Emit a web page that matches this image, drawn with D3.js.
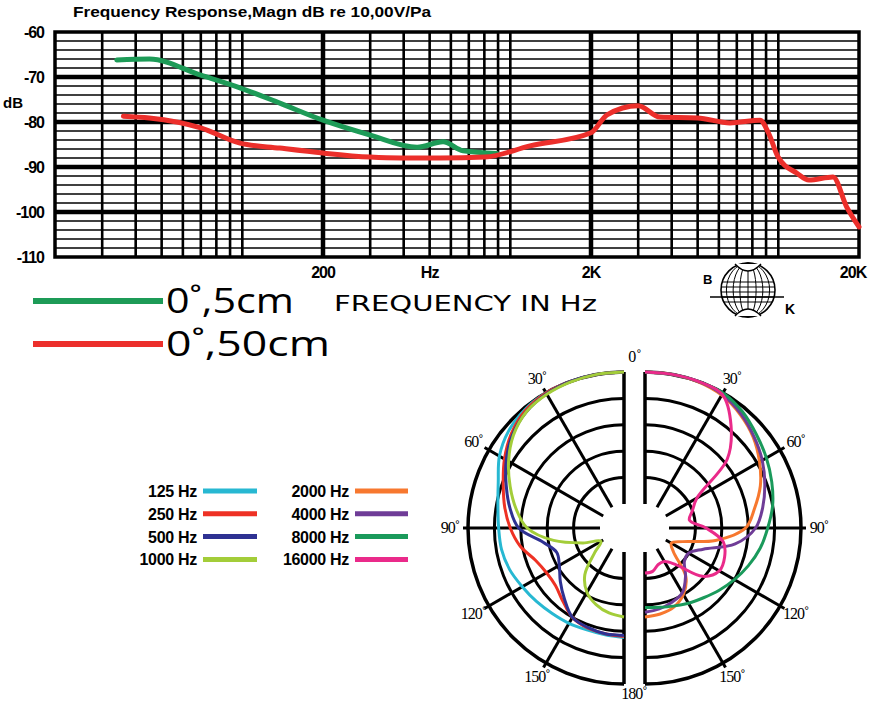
<!DOCTYPE html>
<html>
<head>
<meta charset="utf-8">
<script src="https://cdn.jsdelivr.net/npm/d3@7"></script>
<style>
body { margin: 0; background: #fff; }
svg { display: block; }
</style>
</head>
<body>
<div id="chart"></div>
<script>
'use strict'

/*
 Frequency response data
*/
let freq5cm = [34, 45, 70, 98, 138, 200, 300, 449, 561, 666, 892]
let db5cm = [-66.2, -66, -69.6, -72.4, -75.8, -79.6, -82.9, -85.6, -84.4, -86.4, -87]
let freq50cm = [36, 45, 70, 98, 138, 200, 300, 390, 547, 804, 1184, 2000, 2296, 3000, 3616, 5000, 6600, 8550, 9200, 9980, 11740, 13000, 16000, 18000, 20000]
let db50cm = [-78.7, -79.1, -81.3, -84.7, -85.8, -86.9, -87.8, -88, -88, -87.8, -85.3, -82.4, -78.4, -76.4, -78.9, -79.1, -80.2, -79.6, -82.5, -87.8, -91.4, -92.9, -92.2, -98.9, -103.3]
let respLabels = ['0˚,5cm', '0˚,50cm']
let respColors = ['#1d9b57', '#ec2f2b']

let yTicks = [-60, -70, -80, -90, -100, -110]
let xLabels = [[200, '200'], [500, 'Hz'], [2000, '2K'], [19000, '20K']]

/*
 Polar data, dB relative to 0 deg
*/
let angles = [0, 10, 20, 30, 40, 50, 60, 70, 80, 90, 100, 110, 120, 130, 140, 150, 160, 170, 180]
let pol125 = [0, 0, 0, 0, -0.3, -1.0, -2.3, -4.2, -5.3, -5.8, -6.0, -6.5, -7.3, -7.9, -8.4, -8.7, -9.0, -9.0, -8.8]
let pol250 = [0, 0, 0, 0, -0.5, -1.7, -3.4, -5.2, -6.6, -8.0, -9.6, -11.7, -12.6, -12.6, -11.5, -10.0, -9.4, -9.2, -9.0]
let pol500 = [0, 0, 0, -0.2, -0.8, -2.0, -3.8, -5.8, -7.6, -9.6, -14.0, -16.0, -15.4, -13.8, -12.0, -10.0, -9.5, -9.2, -9.2]
let pol1000 = [0, 0, -0.1, -0.3, -0.8, -2.2, -4.3, -6.6, -8.8, -11.2, -16.0, -21.3, -24.5, -22.3, -18.0, -15.5, -14.1, -13.2, -12.7]
let pol2000 = [0, 0, -0.1, -0.5, -1.5, -2.8, -4.5, -6.3, -8.5, -10.5, -16.0, -22.0, -23.8, -22.5, -17.5, -15.0, -13.6, -13.0, -12.7]
let pol4000 = [0, 0, 0, -0.3, -1.3, -2.6, -3.9, -5.4, -6.9, -8.6, -12.2, -17.8, -20.0, -19.8, -17.6, -15.4, -14.6, -14.0, -13.6]
let pol8000 = [0, 0, 0, 0, -0.8, -2.0, -3.0, -4.0, -5.0, -6.3, -7.4, -8.7, -10.0, -11.2, -12.3, -13.1, -13.8, -14.3, -14.5]
let pol16000 = [0, 0, 0, -0.3, -4.2, -9.2, -18.2, -20.0, -21.0, -18.0, -14.5, -13.5, -13.3, -15.3, -20.5, -22.2, -22.2, -21.2, -21.0]

let leftLabels = ['125 Hz', '250 Hz', '500 Hz', '1000 Hz']
let rightLabels = ['2000 Hz', '4000 Hz', '8000 Hz', '16000 Hz']
let leftColors = ['#27b8d2', '#ee3124', '#2e3192', '#a3cd39']
let rightColors = ['#f7782f', '#6f3c97', '#1a9a5b', '#ea2a8a']
let ringDb = [-20, -15, -10, -5, 0]
let spokes = [30, 60, 90, 120, 150]

let width = 872
let height = 704

let svg = d3.select('#chart').append('svg')
  .attr('width', width)
  .attr('height', height)

/*
 Top chart: frequency response
*/
let x0 = 55, x1 = 859, y0 = 32, y1 = 257
let xscale = d3.scaleLog().domain([20, 20000]).range([x0, x1])
let yscale = d3.scaleLinear().domain([-110, -60]).range([y1, y0])

let grid = svg.append('g')

// horizontal lines every 2 dB, thick every 10 dB
let hLines = d3.range(-108, -60, 2)
grid.selectAll('.hminor')
  .data(hLines.filter(d => d % 10 !== 0))
  .enter().append('line')
  .attr('x1', x0).attr('x2', x1)
  .attr('y1', d => yscale(d)).attr('y2', d => yscale(d))
  .attr('stroke', '#000').attr('stroke-width', 1.6)

let vMinor = []
;[20, 200, 2000].forEach(dec => {
  [1.5, 2, 2.5, 3, 3.5, 4, 4.5, 5].forEach(m => vMinor.push(dec * m))
})
grid.selectAll('.vminor')
  .data(vMinor)
  .enter().append('line')
  .attr('x1', d => xscale(d)).attr('x2', d => xscale(d))
  .attr('y1', y0).attr('y2', y1)
  .attr('stroke', '#000').attr('stroke-width', 2.6)

grid.selectAll('.hmajor')
  .data([-70, -80, -90, -100])
  .enter().append('line')
  .attr('x1', x0).attr('x2', x1)
  .attr('y1', d => yscale(d)).attr('y2', d => yscale(d))
  .attr('stroke', '#000').attr('stroke-width', 4.5)

grid.selectAll('.vmajor')
  .data([200, 2000])
  .enter().append('line')
  .attr('x1', d => xscale(d)).attr('x2', d => xscale(d))
  .attr('y1', y0).attr('y2', y1)
  .attr('stroke', '#000').attr('stroke-width', 4.5)

grid.append('rect')
  .attr('x', x0).attr('y', y0)
  .attr('width', x1 - x0).attr('height', y1 - y0)
  .attr('fill', 'none').attr('stroke', '#000').attr('stroke-width', 3.5)

// curves
let respLine = d3.line()
  .x(d => xscale(d[0]))
  .y(d => yscale(d[1]))
  .curve(d3.curveMonotoneX)

let series = [d3.zip(freq5cm, db5cm), d3.zip(freq50cm, db50cm)]
svg.selectAll('.resp')
  .data(series)
  .enter().append('path')
  .attr('d', respLine)
  .attr('fill', 'none')
  .attr('stroke', (d, i) => respColors[i])
  .attr('stroke-width', 5)
  .attr('stroke-linejoin', 'round')
  .attr('stroke-linecap', 'round')

// title and labels
svg.append('text')
  .attr('x', 73).attr('y', 17)
  .attr('textLength', 358)
  .attr('lengthAdjust', 'spacingAndGlyphs')
  .style('font-family', 'Liberation Sans, Arial, sans-serif')
  .style('font-weight', 'bold')
  .style('font-size', '15px')
  .text('Frequency Response,Magn dB re 10,00V/Pa')

svg.selectAll('.ylab')
  .data(yTicks)
  .enter().append('text')
  .attr('x', 44)
  .attr('y', d => yscale(d) + 6)
  .attr('text-anchor', 'end')
  .style('font-family', 'Liberation Sans, Arial, sans-serif')
  .style('font-weight', 'bold')
  .style('font-size', '16px')
  .style('letter-spacing', '-1px')
  .text(d => d)

svg.append('text')
  .attr('x', 3).attr('y', 108)
  .style('font-family', 'Liberation Sans, Arial, sans-serif')
  .style('font-weight', 'bold')
  .style('font-size', '15px')
  .text('dB')

svg.selectAll('.xlab')
  .data(xLabels)
  .enter().append('text')
  .attr('x', d => xscale(d[0]))
  .attr('y', 278)
  .attr('text-anchor', 'middle')
  .style('font-family', 'Liberation Sans, Arial, sans-serif')
  .style('font-weight', 'bold')
  .style('font-size', '16px')
  .style('letter-spacing', '-1px')
  .text(d => d[1])

// legend of response curves
let legWidths = [128, 164]
let rLeg = svg.selectAll('.rleg')
  .data(respLabels)
  .enter().append('g')
  .attr('transform', (d, i) => 'translate(0,' + (301 + i * 43) + ')')
rLeg.append('line')
  .attr('x1', 33).attr('x2', 163)
  .attr('stroke', (d, i) => respColors[i])
  .attr('stroke-width', 6)
rLeg.append('text')
  .attr('x', 166).attr('y', 12)
  .attr('textLength', (d, i) => legWidths[i])
  .attr('lengthAdjust', 'spacingAndGlyphs')
  .style('font-family', 'Open Sans, sans-serif')
  .style('font-size', '34px')
  .text(d => d)

svg.append('text')
  .attr('x', 334).attr('y', 311)
  .attr('textLength', 263)
  .attr('lengthAdjust', 'spacingAndGlyphs')
  .style('font-family', 'DejaVu Sans, sans-serif')
  .style('font-size', '22px')
  .text('FREQUENCY IN Hz')

// B&K logo
let logo = svg.append('g').attr('transform', 'translate(748,290)')
logo.append('circle').attr('r', 27).attr('fill', '#fff').attr('stroke', '#000').attr('stroke-width', 1.6)
;[0.3, 0.55, 0.8].forEach(k => {
  logo.append('ellipse').attr('rx', 27 * k).attr('ry', 27)
    .attr('fill', 'none').attr('stroke', '#000').attr('stroke-width', 1)
})
logo.append('line').attr('y1', -27).attr('y2', 27).attr('stroke', '#000').attr('stroke-width', 1)
;[-8, -3, 2, 7, 12].forEach(yy => {
  let hw = Math.sqrt(27 * 27 - yy * yy)
  logo.append('line').attr('x1', -hw).attr('x2', hw).attr('y1', yy).attr('y2', yy)
    .attr('stroke', '#000').attr('stroke-width', 1)
})
logo.append('line').attr('x1', -38).attr('x2', 36).attr('y1', 7).attr('y2', 7)
  .attr('stroke', '#000').attr('stroke-width', 1.5)
;[-1, 1].forEach(s => {
  logo.append('path')
    .attr('d', 'M-13,' + (s * 26) + ' Q0,' + (s * 12) + ' 13,' + (s * 26))
    .attr('fill', '#fff').attr('stroke', '#000').attr('stroke-width', 1.4)
})
svg.append('text').attr('x', 703).attr('y', 284)
  .style('font-family', 'Liberation Sans, Arial, sans-serif').style('font-weight', 'bold').style('font-size', '13px')
  .text('B')
svg.append('text').attr('x', 785).attr('y', 314)
  .style('font-family', 'Liberation Sans, Arial, sans-serif').style('font-weight', 'bold').style('font-size', '14px')
  .text('K')

/*
 Polar plot: two half discs
*/
let pcy = 528
let R = 156
let rscale = d3.scaleLinear().domain([-25, 0]).range([24, R])
let halves = [
  { cx: 624, side: -1, data: [pol125, pol250, pol500, pol1000], colors: leftColors },
  { cx: 645, side: 1, data: [pol2000, pol4000, pol8000, pol16000], colors: rightColors }
]

let arcGen = d3.arc()
halves.forEach(h => {
  let g = svg.append('g').attr('transform', 'translate(' + h.cx + ',' + pcy + ')')
  let a0 = h.side > 0 ? 0 : -Math.PI
  let a1 = h.side > 0 ? Math.PI : 0
  g.selectAll('.ring')
    .data(ringDb)
    .enter().append('path')
    .attr('d', d => arcGen({ innerRadius: rscale(d), outerRadius: rscale(d), startAngle: a0, endAngle: a1 }))
    .attr('fill', 'none')
    .attr('stroke', '#000')
    .attr('stroke-width', d => d === 0 ? 3.5 : 3)
  g.selectAll('.spoke')
    .data(spokes)
    .enter().append('line')
    .attr('x1', d => h.side * rscale(-25) * Math.sin(d * Math.PI / 180))
    .attr('y1', d => -rscale(-25) * Math.cos(d * Math.PI / 180))
    .attr('x2', d => h.side * (R + 5) * Math.sin(d * Math.PI / 180))
    .attr('y2', d => -(R + 5) * Math.cos(d * Math.PI / 180))
    .attr('stroke', '#000')
    .attr('stroke-width', 3)
  // straight edge, broken by the hole
  g.append('line').attr('x1', 0).attr('x2', 0).attr('y1', -R).attr('y2', -rscale(-25))
    .attr('stroke', '#000').attr('stroke-width', 3.5)
  g.append('line').attr('x1', 0).attr('x2', 0).attr('y1', rscale(-25)).attr('y2', R)
    .attr('stroke', '#000').attr('stroke-width', 3.5)

  let radial = d3.lineRadial()
    .angle(d => h.side * d[0] * Math.PI / 180)
    .radius(d => rscale(d[1]))
    .curve(d3.curveCatmullRom.alpha(0.5))
  g.selectAll('.pcurve')
    .data(h.data.map(v => d3.zip(angles, v)))
    .enter().append('path')
    .attr('d', radial)
    .attr('fill', 'none')
    .attr('stroke', (d, i) => h.colors[i])
    .attr('stroke-width', 3)
    .attr('stroke-linejoin', 'round')
})

// angle labels
let angLabels = [30, 60, 90, 120, 150]
halves.forEach(h => {
  svg.selectAll('.alab' + h.side)
    .data(angLabels)
    .enter().append('text')
    .attr('x', d => h.cx + h.side * 174 * Math.sin(d * Math.PI / 180))
    .attr('y', d => pcy - 172 * Math.cos(d * Math.PI / 180) + 5)
    .attr('text-anchor', 'middle')
    .style('font-family', 'Liberation Serif, Times New Roman, serif')
    .style('font-size', '16px')
    .style('letter-spacing', '-1px')
    .text(d => d + '˚')
})
svg.append('text').attr('x', 635).attr('y', 362).attr('text-anchor', 'middle')
  .style('font-family', 'Liberation Serif, Times New Roman, serif').style('font-size', '16px')
  .text('0˚')
svg.append('text').attr('x', 634).attr('y', 699).attr('text-anchor', 'middle')
  .style('font-family', 'Liberation Serif, Times New Roman, serif').style('font-size', '16px')
  .style('letter-spacing', '-1px')
  .text('180˚')

// polar legend
let legendCols = [
  { labels: leftLabels, colors: leftColors, tx: 197, lx0: 203, lx1: 257 },
  { labels: rightLabels, colors: rightColors, tx: 349, lx0: 355, lx1: 408 }
]
legendCols.forEach(c => {
  let item = svg.selectAll('.pleg' + c.tx)
    .data(c.labels)
    .enter().append('g')
    .attr('transform', (d, i) => 'translate(0,' + (491 + i * 22.8) + ')')
  item.append('text')
    .attr('x', c.tx).attr('y', 6)
    .attr('text-anchor', 'end')
    .style('font-family', 'Liberation Sans, Arial, sans-serif')
    .style('font-weight', 'bold')
    .style('font-size', '16px')
    .style('letter-spacing', '-0.3px')
    .text(d => d)
  item.append('line')
    .attr('x1', c.lx0).attr('x2', c.lx1)
    .attr('stroke', (d, i) => c.colors[i])
    .attr('stroke-width', 5)
})
</script>
</body>
</html>
